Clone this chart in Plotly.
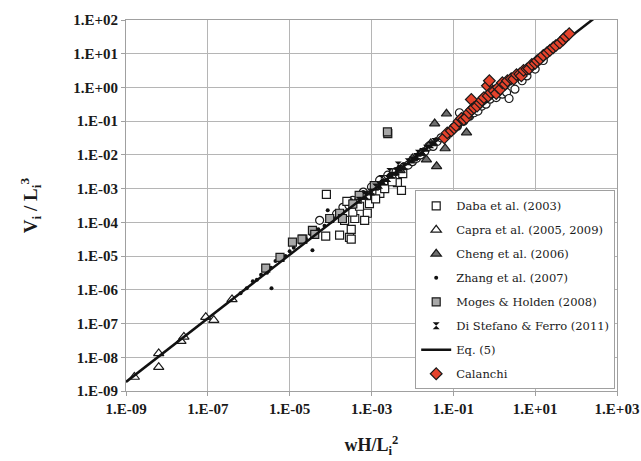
import plotly.graph_objects as go

# ---- data ---------------------------------------------------------------
daba_x = [7.9e-5, 2.5e-4, 7.6e-5, 1.66e-4, 2.9e-4, 3.2e-4, 2.2e-4, 3.9e-4, 3.5e-4, 7.9e-4,
          8.9e-4, 5.1e-4, 7.6e-4, 1.6e-3, 2.1e-3, 4.3e-3, 5.8e-3, 2.1e-5, 5.4e-3, 6.8e-4,
          3.2e-4, 1.26e-3, 3.2e-3]
daba_y = [6.8e-4, 4.2e-4, 3.9e-5, 4.2e-5, 3.6e-5, 6.2e-5, 1.15e-4, 1.3e-4, 2.0e-4, 1.86e-4,
          3.6e-4, 3.0e-4, 6.3e-4, 7.2e-4, 1.0e-3, 1.5e-3, 2.8e-3, 3.2e-5, 8.9e-4, 1.15e-4,
          3.2e-5, 5.0e-4, 1.6e-3]

capra_x = [1.6e-9, 6.3e-9, 6.3e-9, 2.2e-8, 2.6e-8, 8.9e-8, 1.4e-7, 3.9e-7]
capra_y = [2.6e-9, 5.1e-9, 1.3e-8, 3.0e-8, 4.0e-8, 1.55e-7, 1.26e-7, 5.2e-7]

cheng_x = [6.8e-2, 3.5e-2, 0.21, 6.3e-2, 3.9e-2, 2.2e-2, 1.0e-2, 1.58e-2, 5.0e-3, 2.8e-2]
cheng_y = [0.166, 8.5e-2, 4.6e-2, 1.55e-2, 4.6e-3, 7.2e-3, 7.9e-3, 1.12e-2, 3.5e-3, 2.2e-2]

zhang_x = [6.3e-7, 8.9e-7, 1.26e-6, 1.58e-6, 2.0e-6, 2.8e-6, 3.5e-6, 4.5e-6, 6.3e-6, 7.9e-6,
           1.0e-5, 1.26e-5, 1.78e-5, 2.5e-5, 3.2e-5, 5.0e-5, 7.1e-5, 1.0e-4, 2.0e-4, 3.2e-4,
           3.6e-6, 3.6e-5, 8.5e-5, 6.3e-4]
zhang_y = [7.9e-7, 1.12e-6, 1.78e-6, 2.0e-6, 2.8e-6, 3.2e-6, 4.5e-6, 7.1e-6, 8.9e-6, 1.0e-5,
           1.4e-5, 1.78e-5, 2.5e-5, 3.2e-5, 4.5e-5, 6.3e-5, 7.9e-5, 1.26e-4, 2.0e-4, 4.5e-4,
           1.12e-6, 1.5e-5, 2.3e-4, 7.9e-4]

moges_x = [2.6e-6, 5.8e-6, 1.17e-5, 2.0e-5, 3.6e-5, 4.1e-5, 9.5e-5, 1.66e-4, 1.95e-4, 1.17e-3,
           5.0e-4, 3.5e-4, 2.5e-3, 2.45e-3]
moges_y = [4.4e-6, 9.1e-6, 2.6e-5, 3.2e-5, 5.8e-5, 4.4e-5, 1.3e-4, 1.86e-4, 1.3e-4, 1.23e-3,
           6.3e-4, 3.5e-4, 4.3e-2, 4.8e-2]

distefano_x = [5.0e-4, 7.1e-4, 1.0e-3, 1.26e-3, 1.58e-3, 1.78e-3, 2.0e-3, 2.5e-3, 2.8e-3, 3.2e-3,
               4.0e-3, 4.5e-3, 5.0e-3, 6.3e-3, 7.9e-3, 1.0e-2, 1.26e-2, 1.4e-2, 1.78e-2, 2.2e-2,
               2.8e-2, 3.5e-2]
distefano_y = [4.5e-4, 6.3e-4, 7.9e-4, 1.12e-3, 1.26e-3, 2.0e-3, 1.58e-3, 2.0e-3, 3.2e-3, 2.5e-3,
               3.2e-3, 5.0e-3, 4.0e-3, 4.5e-3, 6.3e-3, 7.1e-3, 8.9e-3, 1.12e-2, 1.26e-2, 1.58e-2,
               2.0e-2, 2.5e-2]

# additional open-circle observations (no legend entry)
circle_x = [5.4e-5, 1.0e-4, 1.4e-4, 2.0e-4, 2.8e-4, 3.5e-4, 4.5e-4, 6.3e-4, 7.9e-4, 1.0e-3,
            1.26e-3, 1.58e-3, 2.0e-3, 2.5e-3, 3.2e-3, 4.0e-3, 5.0e-3, 6.3e-3, 7.9e-3, 1.0e-2,
            1.26e-2, 1.58e-2, 2.0e-2, 2.5e-2, 3.2e-2, 4.0e-2, 5.0e-2, 0.141, 7.9e-2, 0.1,
            0.126, 0.178, 0.25, 0.32, 0.4, 0.5, 0.63, 0.79, 1.12, 1.58,
            2.0, 2.3, 3.2, 4.8, 6.3, 10.0, 15.8]
circle_y = [1.15e-4, 1.26e-4, 1.78e-4, 2.8e-4, 3.2e-4, 4.5e-4, 4.0e-4, 7.9e-4, 6.3e-4, 1.12e-3,
            8.9e-4, 1.78e-3, 1.4e-3, 2.5e-3, 2.0e-3, 3.2e-3, 3.5e-3, 4.5e-3, 5.0e-3, 6.3e-3,
            7.9e-3, 1.0e-2, 1.26e-2, 1.78e-2, 1.78e-2, 2.5e-2, 3.2e-2, 0.178, 4.5e-2, 6.3e-2,
            7.1e-2, 0.1, 0.141, 0.178, 0.2, 0.28, 0.32, 0.45, 0.5, 0.63,
            0.71, 0.47, 0.89, 1.58, 2.2, 3.5, 6.3]

calanchi_x = [6.0e-2, 7.1e-2, 8.9e-2, 0.105, 0.117, 0.138, 0.158, 0.18, 0.21, 0.24,
              0.275, 0.28, 0.32, 0.38, 0.45, 0.5, 0.56, 0.68, 0.76, 0.71,
              0.83, 1.0, 1.12, 1.26, 1.41, 1.58, 1.86, 2.1, 2.6, 3.0,
              3.5, 4.2, 4.6, 5.2, 6.3, 7.1, 8.3, 10.0, 11.2, 13.2,
              15.8, 19.5, 22.9, 27.5, 32.0, 40.0, 48.0, 56.0, 68.0]
calanchi_y = [3.2e-2, 4.5e-2, 5.2e-2, 6.3e-2, 7.4e-2, 0.1, 0.12, 0.112, 0.129, 0.178,
              0.44, 0.22, 0.25, 0.28, 0.35, 0.42, 0.5, 1.12, 1.58, 0.56,
              0.71, 0.79, 0.66, 1.0, 0.89, 1.38, 1.26, 1.58, 1.82, 1.78,
              2.4, 2.5, 2.2, 3.2, 3.5, 3.6, 4.8, 5.2, 6.2, 7.1,
              8.9, 10.7, 12.6, 15.1, 17.4, 21.0, 26.0, 32.0, 39.0]

# Eq. (5): V/L^3 = a (wH/L^2)^b
eq_a = 0.56
eq_b = 0.942
eq_x = [1e-9, 1e-7, 1e-5, 1e-3, 1e-1, 1e1, 1e3]
eq_y = [eq_a * v ** eq_b for v in eq_x]

x_ticks = [1e-9, 1e-7, 1e-5, 1e-3, 1e-1, 1e1, 1e3]
x_ticktext = ["1.E-09", "1.E-07", "1.E-05", "1.E-03", "1.E-01", "1.E+01", "1.E+03"]
y_ticks = [1e-9, 1e-8, 1e-7, 1e-6, 1e-5, 1e-4, 1e-3, 1e-2, 1e-1, 1e0, 1e1, 1e2]
y_ticktext = ["1.E-09", "1.E-08", "1.E-07", "1.E-06", "1.E-05", "1.E-04", "1.E-03",
              "1.E-02", "1.E-01", "1.E+00", "1.E+01", "1.E+02"]

SERIF = "Liberation Serif"
EDGE = dict(color="#1a1a1a", width=1.2)

fig = go.Figure()

fig.add_trace(go.Scatter(x=circle_x, y=circle_y, mode="markers", showlegend=False,
                         marker=dict(symbol="circle", size=8, color="white", line=EDGE)))
fig.add_trace(go.Scatter(x=daba_x, y=daba_y, mode="markers", name="Daba et al. (2003)",
                         legendrank=1, legendgroup="g1",
                         marker=dict(symbol="square", size=8, color="white", line=EDGE)))
fig.add_trace(go.Scatter(x=capra_x, y=capra_y, mode="markers", name="Capra et al. (2005, 2009)",
                         legendrank=2, legendgroup="g2",
                         marker=dict(symbol="triangle-up", size=9, color="white", line=EDGE)))
fig.add_trace(go.Scatter(x=cheng_x, y=cheng_y, mode="markers", name="Cheng et al. (2006)",
                         legendrank=3, legendgroup="g3",
                         marker=dict(symbol="triangle-up", size=9, color="#6e6e6e", line=EDGE)))
fig.add_trace(go.Scatter(x=zhang_x, y=zhang_y, mode="markers", name="Zhang et al. (2007)",
                         legendrank=4, legendgroup="g4",
                         marker=dict(symbol="circle", size=4, color="#111111")))
fig.add_trace(go.Scatter(x=moges_x, y=moges_y, mode="markers", name="Moges & Holden (2008)",
                         legendrank=5, legendgroup="g5",
                         marker=dict(symbol="square", size=8, color="#a8a8a8", line=EDGE)))
fig.add_trace(go.Scatter(x=distefano_x, y=distefano_y, mode="markers",
                         name="Di Stefano & Ferro (2011)", legendrank=6, legendgroup="g6",
                         marker=dict(symbol="hourglass", size=7, color="#111111")))
fig.add_trace(go.Scatter(x=eq_x, y=eq_y, mode="lines", name="Eq. (5)", legendrank=7,
                         legendgroup="g7",
                         line=dict(color="#111111", width=2.5)))
fig.add_trace(go.Scatter(x=calanchi_x, y=calanchi_y, mode="markers", name="Calanchi",
                         legendrank=8, legendgroup="g8",
                         marker=dict(symbol="diamond", size=9, color="#e5432c", line=EDGE)))

axis_common = dict(
    type="log", showgrid=True, gridcolor="#b5b5b5", gridwidth=1,
    showline=True, linecolor="#a0a0a0", linewidth=1, mirror=True,
    ticks="outside", ticklen=4, tickcolor="#a0a0a0",
    tickfont=dict(family=SERIF, size=15, color="#1a1a1a", weight="bold"),
    zeroline=False, automargin=False,
)

fig.update_layout(
    width=641, height=461,
    template="none",
    font=dict(family=SERIF),
    paper_bgcolor="white", plot_bgcolor="white",
    margin=dict(l=126, r=24, t=20, b=70),
    xaxis=dict(axis_common, range=[-9, 3], tickvals=x_ticks, ticktext=x_ticktext,
               title=dict(text="<b>wH/L<sub>i</sub><sup>2</sup></b>", standoff=22,
                          font=dict(family=SERIF, size=18, color="#1a1a1a"))),
    yaxis=dict(axis_common, range=[-9, 2], tickvals=y_ticks, ticktext=y_ticktext,
               title=dict(text="<b>V<sub>i</sub> / L<sub>i</sub><sup>3</sup></b>", standoff=30,
                          font=dict(family=SERIF, size=19, color="#1a1a1a"))),
    legend=dict(x=0.589, y=0.541, xanchor="left", yanchor="top",
                bgcolor="white", bordercolor="#a0a0a0", borderwidth=1,
                font=dict(family="DejaVu Serif", size=11.5, color="#1a1a1a"),
                traceorder="grouped", tracegroupgap=5),
)

fig.write_html("out.html")
